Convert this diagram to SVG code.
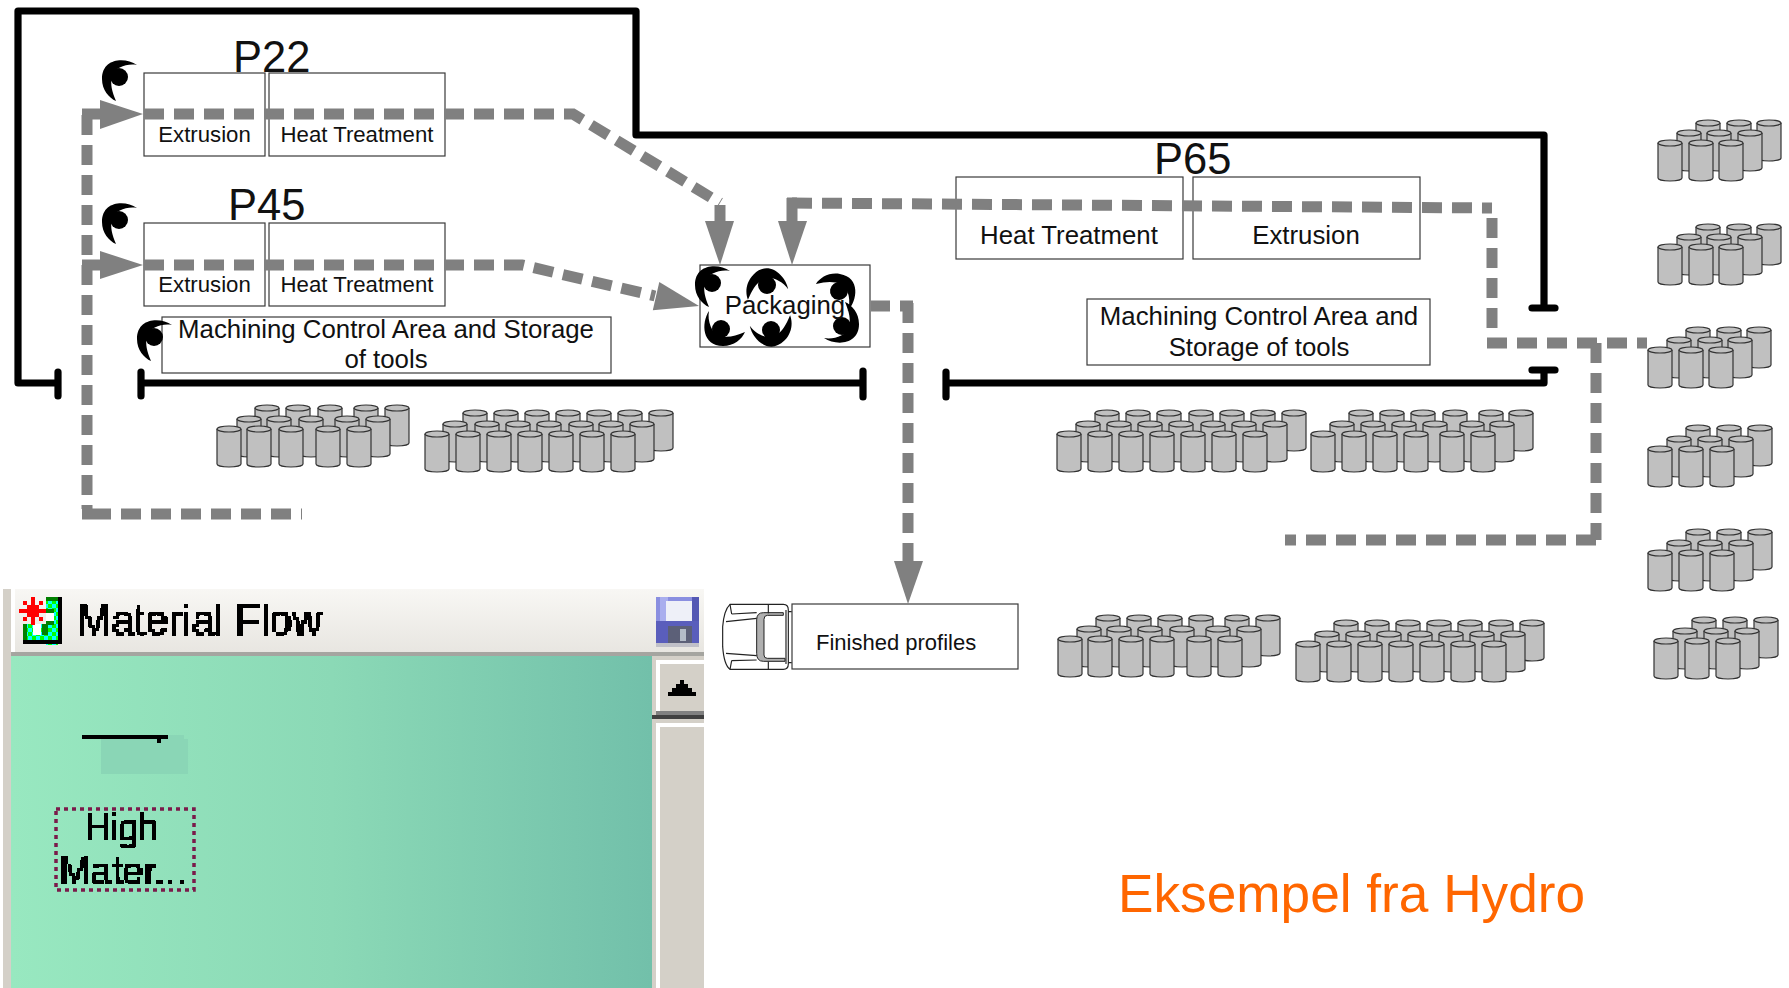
<svg xmlns="http://www.w3.org/2000/svg" width="1789" height="988" viewBox="0 0 1789 988">
<style>
text{font-family:"Liberation Sans",Arial,sans-serif;fill:#111}
.box{fill:#fff;stroke:#3a3a3a;stroke-width:1.2}
.t22{font-size:22.2px;text-anchor:middle}
.t25{font-size:25.8px;text-anchor:middle}
.t42{font-size:43.500px}
.blk{fill:none;stroke:#000;stroke-width:7.200;stroke-linecap:round;stroke-linejoin:round}
.dash{fill:none;stroke:#808080;stroke-width:11;stroke-dasharray:20 10}
.solid{fill:none;stroke:#808080;stroke-width:11}
.ah{fill:#808080}
.px{font-size:44px;fill:#000}
.tr{fill:none;stroke:#222;stroke-width:3.500}
</style>
<defs>
<g id="c"><path d="M0,3V38A12,3 0 0 0 24,38V3" fill="#c0c0c0" stroke="#333" stroke-width="1.2"/><ellipse cx="12" cy="3" rx="12" ry="3" fill="#c0c0c0" stroke="#333" stroke-width="1.2"/></g>
<g id="ear"><path d="M18,-12C6,-20 -17,-19 -17,2C-17,13 -10,21 -3,24C-7,14 -9,8 -7,-2C-4,-9 8,-14 18,-12Z"/><circle r="9"/></g>
<linearGradient id="teal" x1="0" x2="1" y1="0" y2="0"><stop offset="0" stop-color="#98e8c0"/><stop offset="0.5" stop-color="#8bd9b6"/><stop offset="1" stop-color="#72c0aa"/></linearGradient>
<linearGradient id="bar" x1="0" x2="0" y1="0" y2="1"><stop offset="0" stop-color="#f8f7f4"/><stop offset="1" stop-color="#e8e6e1"/></linearGradient>
<pattern id="chk" width="8" height="8" patternUnits="userSpaceOnUse"><rect width="8" height="8" fill="#00ff00"/><rect width="4" height="4" fill="#00ffff"/><rect x="4" y="4" width="4" height="4" fill="#00ffff"/></pattern>
<filter id="pix" filterUnits="userSpaceOnUse" x="0" y="580" width="720" height="408" color-interpolation-filters="sRGB"><feFlood x="1" y="581" width="2" height="2"/><feComposite x="0" y="580" width="4" height="4"/><feTile x="0" y="580" width="720" height="408" result="a"/><feComposite in="SourceGraphic" in2="a" operator="in"/><feMorphology operator="dilate" radius="1"/><feComponentTransfer><feFuncA type="discrete" tableValues="0 1 1 1"/></feComponentTransfer></filter>
</defs>
<rect width="1789" height="988" fill="#fff"/>

<g id="p22">
<text class="t42" x="233" y="72">P22</text>
<use href="#ear" x="119" y="77"/>
<g id="p22-extrusion"><rect class="box" x="144" y="73" width="121" height="83"/><text class="t22" x="204.500" y="142">Extrusion</text></g>
<g id="p22-heat"><rect class="box" x="269" y="73" width="176" height="83"/><text class="t22" x="357" y="142">Heat Treatment</text></g>
</g>
<g id="p45">
<text class="t42" x="228" y="220">P45</text>
<use href="#ear" x="119" y="220"/>
<g id="p45-extrusion"><rect class="box" x="144" y="223" width="121" height="83"/><text class="t22" x="204.500" y="292">Extrusion</text></g>
<g id="p45-heat"><rect class="box" x="269" y="223" width="176" height="83"/><text class="t22" x="357" y="292">Heat Treatment</text></g>
</g>
<g id="machining-left">
<rect class="box" x="162" y="317" width="449" height="56"/>
<use href="#ear" x="154" y="337"/>
<text class="t25" x="386" y="338">Machining Control Area and Storage</text>
<text class="t25" x="386" y="368">of tools</text>
</g>
<g id="p65">
<text class="t42" x="1154" y="174">P65</text>
<g id="p65-heat"><rect class="box" x="956" y="177" width="227" height="82"/><text class="t25" x="1069" y="244">Heat Treatment</text></g>
<g id="p65-extrusion"><rect class="box" x="1193" y="177" width="227" height="82"/><text class="t25" x="1306" y="244">Extrusion</text></g>
</g>
<g id="machining-right">
<rect class="box" x="1087" y="299" width="343" height="66"/>
<text class="t25" x="1259" y="325">Machining Control Area and</text>
<text class="t25" x="1259" y="356">Storage of tools</text>
</g>
<g id="packaging">
<rect class="box" x="700" y="265" width="170" height="82"/>
<use href="#ear" transform="translate(712,283)"/>
<use href="#ear" transform="translate(767,285) rotate(45)"/>
<use href="#ear" transform="translate(839,291) rotate(100)"/>
<use href="#ear" transform="translate(842,326) rotate(180)"/>
<use href="#ear" transform="translate(771,330) rotate(225)"/>
<use href="#ear" transform="translate(721,329) rotate(270)"/>
<text class="t25" x="785" y="314">Packaging</text>
</g>
<g id="finished-profiles">
<rect class="box" x="792" y="604" width="226" height="65"/>
<text x="816" y="650" font-size="22">Finished profiles</text>
<g id="truck" transform="translate(700,590) scale(.3333)">
<path class="tr" d="M90,43H250Q265,43 265,60V222Q265,238 250,238H90Q72,225 68,170V110Q72,60 90,43Z"/>
<path d="M250,68H190Q170,68 170,90V190Q170,214 190,214H255V205H202Q192,205 192,195V88Q192,76 202,76H250Z" fill="#b0b0b0" stroke="#222" stroke-width="3"/>
<path class="tr" d="M205,43V70M205,215V238M258,60V222M95,72L170,68M78,95L170,85M78,190L170,197M95,212L170,210M265,65H275M265,218H275M90,43L95,72M90,238L95,212"/>
</g>
</g>

<g id="connectors">
<path class="blk" d="M58,372V396M58,383H18V11H636V135H1544V308M1532,308H1555"/>
<path class="blk" d="M141,372V396M141,383H863M863,371V397"/>
<path class="blk" d="M946,372V397M946,383H1544V370M1532,370H1555"/>
<path class="solid" d="M82,114H105M82,265H105M82,514H91"/>
<path class="dash" d="M87,115V509"/>
<path class="dash" d="M91,514H302"/>
<path class="dash" d="M144,114H573L720,203"/>
<path class="solid" d="M720,205V222"/>
<path class="dash" d="M144,265H522L655,296"/>
<path class="dash" d="M792,203L1492,208"/>
<path class="solid" d="M787,203H797M792,198V222"/>
<path class="dash" d="M1492,218V338"/>
<path class="dash" d="M1487,343H1647"/>
<path class="dash" d="M1596,343V540"/>
<path class="dash" d="M1596,540H1285"/>
<path class="solid" d="M871,306H890M900,306H913"/>
<path class="dash" d="M908,303V561"/>
<polygon class="ah" points="143,114 100,100 100,129"/>
<polygon class="ah" points="143,265 100,251 100,279"/>
<polygon class="ah" points="699,306 652.800,310.200 659.300,281.900"/>
<polygon class="ah" points="720,265 705,221 734,221"/>
<polygon class="ah" points="792,265 778,221 807,221"/>
<polygon class="ah" points="908,604 894,561 923,561"/>
</g>

<g id="pile-1">
<use href="#c" x="255" y="405"/><use href="#c" x="286" y="405"/><use href="#c" x="318" y="405"/><use href="#c" x="354" y="405"/><use href="#c" x="385" y="405"/>
<use href="#c" x="237" y="416"/><use href="#c" x="267" y="416"/><use href="#c" x="299" y="416"/><use href="#c" x="335" y="416"/><use href="#c" x="366" y="416"/>
<use href="#c" x="217" y="426"/><use href="#c" x="247" y="426"/><use href="#c" x="279" y="426"/><use href="#c" x="316" y="426"/><use href="#c" x="347" y="426"/>
</g>
<g id="pile-2">
<use href="#c" x="463" y="410"/><use href="#c" x="494" y="410"/><use href="#c" x="525" y="410"/><use href="#c" x="556" y="410"/><use href="#c" x="587" y="410"/><use href="#c" x="618" y="410"/><use href="#c" x="649" y="410"/>
<use href="#c" x="443" y="421"/><use href="#c" x="475" y="421"/><use href="#c" x="506" y="421"/><use href="#c" x="537" y="421"/><use href="#c" x="569" y="421"/><use href="#c" x="599" y="421"/><use href="#c" x="630" y="421"/>
<use href="#c" x="425" y="431"/><use href="#c" x="456" y="431"/><use href="#c" x="487" y="431"/><use href="#c" x="518" y="431"/><use href="#c" x="549" y="431"/><use href="#c" x="580" y="431"/><use href="#c" x="611" y="431"/>
</g>
<g id="pile-3">
<use href="#c" x="1095" y="410"/><use href="#c" x="1126" y="410"/><use href="#c" x="1157" y="410"/><use href="#c" x="1189" y="410"/><use href="#c" x="1220" y="410"/><use href="#c" x="1251" y="410"/><use href="#c" x="1282" y="410"/>
<use href="#c" x="1076" y="421"/><use href="#c" x="1107" y="421"/><use href="#c" x="1138" y="421"/><use href="#c" x="1169" y="421"/><use href="#c" x="1201" y="421"/><use href="#c" x="1232" y="421"/><use href="#c" x="1263" y="421"/>
<use href="#c" x="1057" y="431"/><use href="#c" x="1088" y="431"/><use href="#c" x="1119" y="431"/><use href="#c" x="1150" y="431"/><use href="#c" x="1181" y="431"/><use href="#c" x="1212" y="431"/><use href="#c" x="1243" y="431"/>
</g>
<g id="pile-4">
<use href="#c" x="1349" y="410"/><use href="#c" x="1380" y="410"/><use href="#c" x="1411" y="410"/><use href="#c" x="1443" y="410"/><use href="#c" x="1479" y="410"/><use href="#c" x="1509" y="410"/>
<use href="#c" x="1330" y="421"/><use href="#c" x="1361" y="421"/><use href="#c" x="1392" y="421"/><use href="#c" x="1423" y="421"/><use href="#c" x="1460" y="421"/><use href="#c" x="1490" y="421"/>
<use href="#c" x="1311" y="431"/><use href="#c" x="1342" y="431"/><use href="#c" x="1373" y="431"/><use href="#c" x="1404" y="431"/><use href="#c" x="1440" y="431"/><use href="#c" x="1471" y="431"/>
</g>
<g id="pile-5">
<use href="#c" x="1096" y="615"/><use href="#c" x="1127" y="615"/><use href="#c" x="1158" y="615"/><use href="#c" x="1189" y="615"/><use href="#c" x="1225" y="615"/><use href="#c" x="1256" y="615"/>
<use href="#c" x="1077" y="626"/><use href="#c" x="1107" y="626"/><use href="#c" x="1138" y="626"/><use href="#c" x="1170" y="626"/><use href="#c" x="1206" y="626"/><use href="#c" x="1237" y="626"/>
<use href="#c" x="1058" y="636"/><use href="#c" x="1088" y="636"/><use href="#c" x="1119" y="636"/><use href="#c" x="1150" y="636"/><use href="#c" x="1187" y="636"/><use href="#c" x="1218" y="636"/>
</g>
<g id="pile-6">
<use href="#c" x="1334" y="620"/><use href="#c" x="1365" y="620"/><use href="#c" x="1396" y="620"/><use href="#c" x="1427" y="620"/><use href="#c" x="1458" y="620"/><use href="#c" x="1489" y="620"/><use href="#c" x="1520" y="620"/>
<use href="#c" x="1315" y="631"/><use href="#c" x="1346" y="631"/><use href="#c" x="1377" y="631"/><use href="#c" x="1408" y="631"/><use href="#c" x="1439" y="631"/><use href="#c" x="1470" y="631"/><use href="#c" x="1501" y="631"/>
<use href="#c" x="1296" y="641"/><use href="#c" x="1327" y="641"/><use href="#c" x="1358" y="641"/><use href="#c" x="1389" y="641"/><use href="#c" x="1420" y="641"/><use href="#c" x="1451" y="641"/><use href="#c" x="1482" y="641"/>
</g>
<g id="pile-7">
<use href="#c" x="1696" y="120"/><use href="#c" x="1727" y="120"/><use href="#c" x="1757" y="120"/>
<use href="#c" x="1677" y="130"/><use href="#c" x="1707" y="130"/><use href="#c" x="1738" y="130"/>
<use href="#c" x="1658" y="140"/><use href="#c" x="1689" y="140"/><use href="#c" x="1719" y="140"/>
</g>
<g id="pile-8">
<use href="#c" x="1696" y="224"/><use href="#c" x="1727" y="224"/><use href="#c" x="1757" y="224"/>
<use href="#c" x="1677" y="234"/><use href="#c" x="1707" y="234"/><use href="#c" x="1738" y="234"/>
<use href="#c" x="1658" y="244"/><use href="#c" x="1689" y="244"/><use href="#c" x="1719" y="244"/>
</g>
<g id="pile-9">
<use href="#c" x="1686" y="327"/><use href="#c" x="1717" y="327"/><use href="#c" x="1747" y="327"/>
<use href="#c" x="1667" y="337"/><use href="#c" x="1698" y="337"/><use href="#c" x="1728" y="337"/>
<use href="#c" x="1648" y="347"/><use href="#c" x="1679" y="347"/><use href="#c" x="1709" y="347"/>
</g>
<g id="pile-10">
<use href="#c" x="1686" y="425"/><use href="#c" x="1717" y="425"/><use href="#c" x="1748" y="425"/>
<use href="#c" x="1667" y="436"/><use href="#c" x="1698" y="436"/><use href="#c" x="1729" y="436"/>
<use href="#c" x="1648" y="446"/><use href="#c" x="1679" y="446"/><use href="#c" x="1710" y="446"/>
</g>
<g id="pile-11">
<use href="#c" x="1686" y="529"/><use href="#c" x="1717" y="529"/><use href="#c" x="1748" y="529"/>
<use href="#c" x="1667" y="540"/><use href="#c" x="1698" y="540"/><use href="#c" x="1729" y="540"/>
<use href="#c" x="1648" y="550"/><use href="#c" x="1679" y="550"/><use href="#c" x="1710" y="550"/>
</g>
<g id="pile-12">
<use href="#c" x="1692" y="617"/><use href="#c" x="1723" y="617"/><use href="#c" x="1754" y="617"/>
<use href="#c" x="1673" y="628"/><use href="#c" x="1704" y="628"/><use href="#c" x="1735" y="628"/>
<use href="#c" x="1654" y="638"/><use href="#c" x="1685" y="638"/><use href="#c" x="1716" y="638"/>
</g>

<g id="material-flow-window">
<rect x="3" y="589" width="8" height="399" fill="#d4d0c8"/>
<rect x="15" y="589" width="689" height="63" fill="url(#bar)"/>
<rect x="11" y="652" width="693" height="4" fill="#a5a5a0"/>
<rect x="11" y="656" width="641" height="332" fill="url(#teal)"/>
<rect x="652" y="656" width="52" height="332" fill="#d4d0c8"/>
<path d="M656,660H704V664H660V711H656Z" fill="#fff"/>
<rect x="656" y="711" width="48" height="4" fill="#808080"/>
<rect x="652" y="715" width="52" height="4" fill="#404040"/>
<path d="M656,723H704V727H660V988H656Z" fill="#fff"/>
<path d="M680,680h4v4h4v4h4v4h4v4h-28v-4h4v-4h4v-4h4z" fill="#000"/>
<g id="app-icon">
<rect x="46" y="597" width="12" height="4" fill="#008000"/>
<rect x="46" y="601" width="12" height="44" fill="url(#chk)"/>
<rect x="46" y="613" width="8" height="12" fill="#fff"/>
<rect x="46" y="621" width="8" height="4" fill="#008000"/>
<rect x="46" y="609" width="8" height="4" fill="#008000"/>
<rect x="23" y="624" width="4" height="16" fill="#008000"/>
<rect x="27" y="624" width="19" height="16" fill="url(#chk)"/>
<rect x="33" y="624" width="8" height="11" fill="#fff"/>
<rect x="42" y="624" width="6" height="11" fill="#008000"/>
<rect x="58" y="597" width="4" height="46" fill="#000"/>
<rect x="23" y="640" width="39" height="4" fill="#000"/>
<rect x="19" y="609" width="27" height="4" fill="#ff0000"/>
<rect x="31" y="597" width="4" height="28" fill="#ff0000"/>
<rect x="27" y="605" width="12" height="12" fill="#ff0000"/>
<rect x="23" y="601" width="4" height="4" fill="#ff0000"/>
<rect x="39" y="601" width="4" height="4" fill="#ff0000"/>
<rect x="23" y="617" width="4" height="4" fill="#ff0000"/>
<rect x="39" y="617" width="4" height="4" fill="#ff0000"/>
</g>
<g id="save-icon">
<rect x="656" y="597" width="43" height="46" fill="#8a8fe0"/>
<rect x="660" y="597" width="8" height="24" fill="#a9aeee"/>
<rect x="692" y="597" width="7" height="46" fill="#5458b4"/>
<rect x="666" y="601" width="26" height="20" fill="#eef0f8"/>
<rect x="656" y="621" width="43" height="22" fill="#5a5ebc"/>
<rect x="668" y="626" width="24" height="17" fill="#5c6078"/>
<rect x="680" y="629" width="6" height="12" fill="#b4bcc8"/>
<rect x="656" y="643" width="43" height="4" fill="#c0c0c8"/>
</g>
<rect x="101" y="739" width="87" height="35" fill="#8ad6b6"/>
<rect x="167" y="735" width="17" height="4" fill="#8ad6b6"/>
<rect x="82" y="735" width="86" height="4" fill="#000"/>
<rect x="157" y="739" width="4" height="4" fill="#000"/>
<rect x="56" y="809" width="138" height="81" fill="none" stroke="#7a1a4a" stroke-width="3.500" stroke-dasharray="4 4"/>
<g id="window-text" filter="url(#pix)">
<text class="px" x="77" y="635" textLength="245" lengthAdjust="spacingAndGlyphs">Material Flow</text>
<text class="px" style="font-size:38px" x="85" y="841" textLength="73" lengthAdjust="spacingAndGlyphs">High</text>
<text class="px" style="font-size:38px" x="59" y="884" textLength="127" lengthAdjust="spacingAndGlyphs">Mater...</text>
</g>
</g>
<text id="caption" x="1118" y="912" font-size="53.200" style="fill:#ff6600">Eksempel fra Hydro</text>
</svg>
